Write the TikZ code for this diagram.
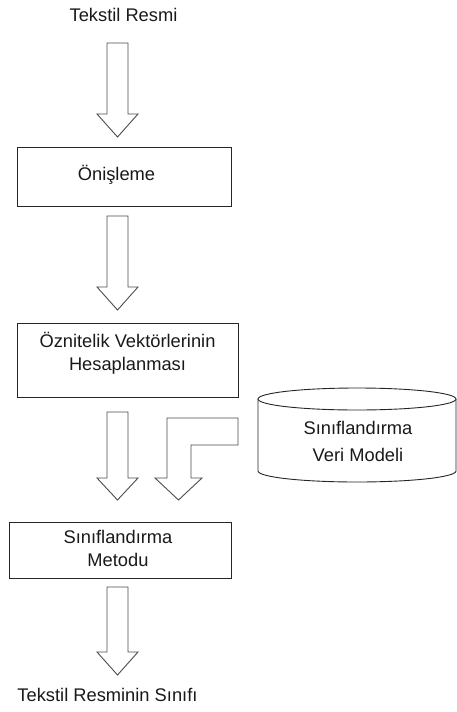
\documentclass[tikz,border=0pt]{standalone}
\usepackage{fontspec}
\setmainfont{Liberation Sans}
\begin{document}
\begin{tikzpicture}[x=1pt,y=-1pt,
  txt/.style={font=\fontsize{18.3}{23}\selectfont, align=center, inner sep=0pt, text=black!90},
  box/.style={draw=black!85, line width=0.9pt, inner sep=0pt},
  blockarrow/.style={draw=black!70, line width=0.9pt, fill=white, line join=miter}]
\useasboundingbox (0,0) rectangle (457,712);

% texts and boxes
\node[txt] (src) at (123.5,15) {Tekstil Resmi};

\node[box, minimum width=214pt, minimum height=59pt] (b1) at (124,176.5) {};
\node[txt] (t1) at (116.5,175) {Önişleme};

\node[box, minimum width=221pt, minimum height=74pt] (b2) at (127.5,360) {};
\node[txt] (t2) at (127.5,353.5) {Öznitelik Vektörlerinin\\Hesaplanması};

\node[box, minimum width=222pt, minimum height=56pt] (b3) at (120,550) {};
\node[txt] (t3) at (118,548) {Sınıflandırma\\Metodu};

\node[txt] (res) at (107.5,695) {Tekstil Resminin Sınıfı};

% cylinder
\draw[box, fill=white] (258,399) -- (258,471) arc[start angle=180, end angle=360, x radius=99pt, y radius=11pt] -- (456,399);
\draw[box] (357,399) ellipse[x radius=99pt, y radius=11pt];
\node[txt, font=\fontsize{18.3}{27}\selectfont] (db) at (358,441.5) {Sınıflandırma\\Veri Modeli};

% block arrows
\draw[blockarrow] (107,43) -- (128,43) -- (128,114) -- (138,114) -- (117.5,137) -- (97,114) -- (107,114) -- cycle;
\draw[blockarrow] (107,216) -- (128,216) -- (128,287) -- (138,287) -- (117.5,310) -- (97,287) -- (107,287) -- cycle;
\draw[blockarrow] (107,412) -- (128,412) -- (128,478) -- (138,478) -- (117.5,500) -- (97,478) -- (107,478) -- cycle;
\draw[blockarrow] (238,418) -- (167,418) -- (167,478) -- (155,478) -- (178.5,500) -- (202,478) -- (191,478) -- (191,445) -- (238,445) -- cycle;
\draw[blockarrow] (107,587) -- (128,587) -- (128,652) -- (138,652) -- (117.5,675) -- (97,652) -- (107,652) -- cycle;
\end{tikzpicture}
\end{document}
